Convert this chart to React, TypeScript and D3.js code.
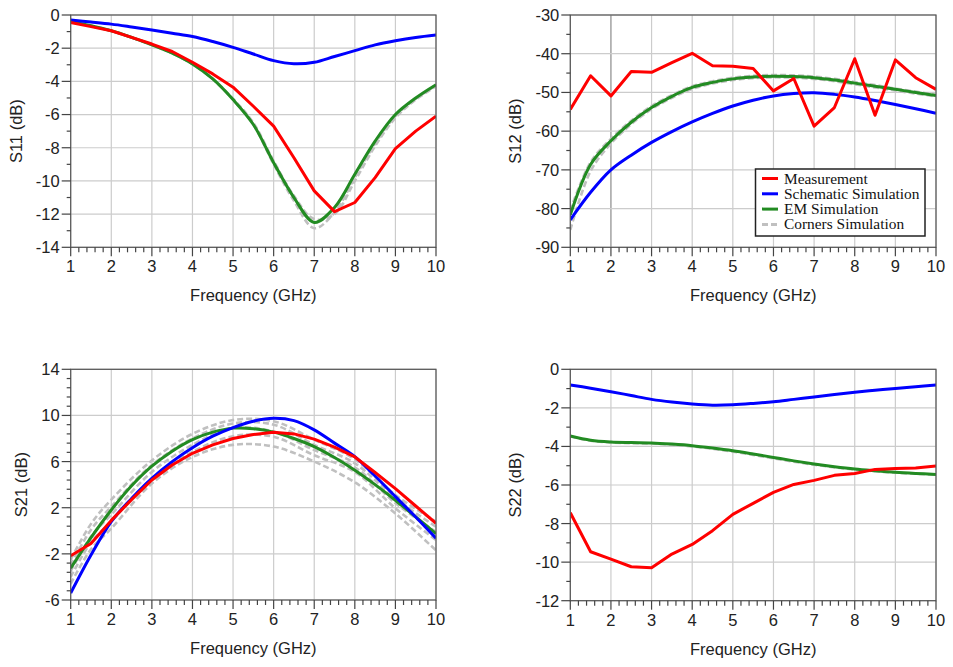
import React from 'react';
import * as d3 from 'd3';

// ---------- data ----------
const freq = [1, 1.5, 2, 2.5, 3, 3.5, 4, 4.5, 5, 5.5, 6, 6.5, 7, 7.5, 8, 8.5, 9, 9.5, 10];
const freqCorner21 = [1, 1.5, 2, 3, 4, 5, 6, 7, 8, 9, 10];

const s11Meas = [-0.45, -0.7, -0.95, -1.35, -1.75, -2.2, -2.85, -3.55, -4.35, -5.5, -6.7, -8.6, -10.6, -11.85, -11.3, -9.8, -8.05, -7.0, -6.1];
const s11Sch = [-0.3, -0.42, -0.55, -0.72, -0.9, -1.1, -1.3, -1.6, -1.95, -2.35, -2.75, -2.94, -2.85, -2.5, -2.15, -1.8, -1.55, -1.35, -1.2];
const s11EM = [-0.4, -0.65, -0.95, -1.35, -1.8, -2.3, -2.95, -3.85, -5.1, -6.6, -8.9, -11.0, -12.5, -11.6, -9.6, -7.6, -6.0, -5.0, -4.2];
const s11CornerA = [-0.4, -0.65, -0.95, -1.35, -1.8, -2.3, -2.95, -3.85, -5.1, -6.6, -9.0, -11.2, -12.85, -11.9, -9.8, -7.75, -6.1, -5.05, -4.25];
const s11CornerB = [-0.4, -0.65, -0.95, -1.35, -1.8, -2.3, -2.95, -3.85, -5.05, -6.5, -8.8, -10.9, -12.3, -12.0, -10.0, -7.9, -6.2, -5.1, -4.3];

const s12Meas = [-54.4, -45.7, -50.9, -44.6, -44.8, -42.3, -39.9, -43.1, -43.25, -43.8, -49.6, -46.4, -58.7, -53.9, -41.3, -55.9, -41.6, -46.2, -49.2];
const s12Sch = [-82.9, -75.8, -70.0, -66.2, -62.9, -60.1, -57.6, -55.4, -53.5, -52.0, -50.9, -50.3, -50.1, -50.5, -51.2, -52.1, -53.1, -54.2, -55.4];
const s12EM = [-81.6, -68.6, -62.5, -57.7, -53.9, -51.0, -48.7, -47.4, -46.5, -46.0, -45.8, -45.9, -46.2, -46.8, -47.6, -48.4, -49.2, -50.0, -50.8];
const s12CornerA = [-80.5, -68.0, -62.0, -57.3, -53.5, -50.7, -48.4, -47.1, -46.2, -45.7, -45.5, -45.6, -45.9, -46.5, -47.3, -48.1, -49.0, -49.8, -50.6];
const s12CornerB = [-85.5, -70.3, -63.2, -58.2, -54.3, -51.4, -49.1, -47.7, -46.8, -46.3, -46.1, -46.2, -46.5, -47.1, -47.9, -48.7, -49.5, -50.3, -51.0];

const s21Meas = [-2.16, -1.1, 0.9, 2.7, 4.4, 5.7, 6.72, 7.45, 8.0, 8.35, 8.55, 8.4, 7.95, 7.25, 6.4, 5.05, 3.65, 2.15, 0.65];
const s21Sch = [-5.4, -2.1, 0.8, 2.8, 4.55, 6.0, 7.2, 8.2, 8.95, 9.5, 9.75, 9.55, 8.75, 7.6, 6.43, 4.75, 2.96, 1.2, -0.65];
const s21EM = [-3.25, -0.6, 1.8, 3.9, 5.6, 6.9, 7.9, 8.55, 8.9, 8.85, 8.55, 8.0, 7.3, 6.35, 5.25, 4.0, 2.65, 1.2, -0.25];
const s21CornerA = [-2.5, 0.6, 2.7, 6.1, 8.4, 9.6, 9.5, 7.9, 6.2, 3.1, 0.8];
const s21CornerB = [-3.0, 0.1, 2.1, 5.7, 8.0, 9.3, 9.2, 7.45, 5.85, 2.8, 0.35];
const s21CornerC = [-3.5, -0.5, 1.4, 5.1, 7.45, 8.9, 8.6, 7.0, 5.5, 2.4, -0.1];
const s21CornerD = [-4.0, -1.0, 0.8, 4.55, 6.85, 8.2, 8.15, 6.55, 5.1, 1.95, -0.8];
const s21CornerE = [-4.6, -1.6, 0.2, 4.1, 6.4, 7.45, 7.3, 6.0, 4.2, 1.5, -1.7];

const s22Meas = [-7.44, -9.46, -9.84, -10.24, -10.29, -9.58, -9.08, -8.37, -7.52, -6.95, -6.38, -5.97, -5.76, -5.5, -5.4, -5.19, -5.15, -5.12, -5.01];
const s22Sch = [-0.81, -0.98, -1.16, -1.36, -1.56, -1.7, -1.8, -1.86, -1.84, -1.77, -1.68, -1.56, -1.44, -1.31, -1.19, -1.09, -0.99, -0.9, -0.81];
const s22EM = [-3.46, -3.68, -3.77, -3.8, -3.82, -3.88, -3.96, -4.08, -4.22, -4.39, -4.57, -4.75, -4.91, -5.05, -5.17, -5.26, -5.34, -5.4, -5.45];
const s22CornerA = [-3.48, -3.7, -3.79, -3.83, -3.85, -3.91, -4.0, -4.12, -4.27, -4.44, -4.62, -4.79, -4.95, -5.08, -5.2, -5.29, -5.36, -5.42, -5.47];

const xTicks = [1, 2, 3, 4, 5, 6, 7, 8, 9, 10];
const legendLabels = ['Measurement', 'Schematic Simulation', 'EM Simulation', 'Corners Simulation'];

// ---------- styling ----------
const RED = '#ff0000';
const BLUE = '#0000ff';
const GREEN = '#228b22';
const GRAY = '#c0c0c0';
const SANS = 'Arial, "Liberation Sans", sans-serif';
const SERIF = '"Times New Roman", "Liberation Serif", serif';
const FS = 16.5;

type Series = { x: number[]; y: number[]; kind: 'meas' | 'sch' | 'em' | 'corner' };

type PanelProps = {
  left: number; right: number; top: number; bottom: number;
  yMin: number; yMax: number; yStep: number; yMinor: number;
  yLabel: string; yLabelX: number;
  series: Series[];
  darkGrid?: number[];
  legend?: boolean;
};

function Panel(p: PanelProps) {
  const x = d3.scaleLinear().domain([1, 10]).range([p.left, p.right]);
  const y = d3.scaleLinear().domain([p.yMin, p.yMax]).range([p.bottom, p.top]);
  const majors = d3.range(p.yMin, p.yMax + 1e-6, p.yStep);
  const minors = d3.range(p.yMin, p.yMax + 1e-6, p.yMinor).filter(v => majors.every(m => Math.abs(m - v) > 1e-6));
  const xMinor = d3.range(1, 10.0001, 0.2).filter(v => Math.abs(v - Math.round(v)) > 1e-6);

  const smooth = d3.line<[number, number]>().x(d => x(d[0])).y(d => y(d[1])).curve(d3.curveCatmullRom.alpha(0.5));
  const straight = d3.line<[number, number]>().x(d => x(d[0])).y(d => y(d[1]));

  const order = ['corner', 'em', 'sch', 'meas'];
  const sorted = [...p.series].sort((a, b) => order.indexOf(a.kind) - order.indexOf(b.kind));
  const midX = (p.left + p.right) / 2;
  const midY = (p.top + p.bottom) / 2;
  const clipId = `clip-${Math.round(p.left)}-${Math.round(p.top)}`;

  return (
    <g>
      <defs>
        <clipPath id={clipId}>
          <rect x={p.left} y={p.top - 2} width={p.right - p.left} height={p.bottom - p.top + 4} />
        </clipPath>
      </defs>
      {/* grid */}
      {xTicks.map(t => (
        <line key={'gx' + t} x1={x(t)} x2={x(t)} y1={p.top} y2={p.bottom}
          stroke={p.darkGrid && p.darkGrid.includes(t) ? '#8a8a8a' : '#cccccc'} strokeWidth={1.2} />
      ))}
      {majors.map(t => (
        <line key={'gy' + t} x1={p.left} x2={p.right} y1={y(t)} y2={y(t)} stroke="#cccccc" strokeWidth={1.2} />
      ))}
      {/* series */}
      <g clipPath={`url(#${clipId})`}>
        {sorted.map((s, i) => {
          const pts = s.x.map((v, j) => [v, s.y[j]] as [number, number]);
          const d = s.kind === 'meas' ? straight(pts) : smooth(pts);
          const color = s.kind === 'meas' ? RED : s.kind === 'sch' ? BLUE : s.kind === 'em' ? GREEN : GRAY;
          return (
            <path key={i} d={d || ''} fill="none" stroke={color}
              strokeWidth={s.kind === 'corner' ? 2.6 : 3}
              strokeDasharray={s.kind === 'corner' ? '6 3' : undefined}
              strokeLinejoin="round" />
          );
        })}
      </g>
      {/* frame */}
      <rect x={p.left} y={p.top} width={p.right - p.left} height={p.bottom - p.top} fill="none" stroke="#555" strokeWidth={1.2} />
      {/* y ticks */}
      {majors.map(t => (
        <g key={'yt' + t}>
          <line x1={p.left - 9} x2={p.left} y1={y(t)} y2={y(t)} stroke="#444" strokeWidth={1.2} />
          <text x={p.left - 11} y={y(t)} dy="0.36em" textAnchor="end" fontFamily={SANS} fontSize={FS} fill="#222">
            {t < 0 ? '-' + Math.abs(t) : String(t)}
          </text>
        </g>
      ))}
      {minors.map(t => (
        <line key={'ym' + t} x1={p.left - 4} x2={p.left} y1={y(t)} y2={y(t)} stroke="#444" strokeWidth={1.2} />
      ))}
      {/* x ticks */}
      {xTicks.map(t => (
        <g key={'xt' + t}>
          <line x1={x(t)} x2={x(t)} y1={p.bottom} y2={p.bottom + 9} stroke="#444" strokeWidth={1.2} />
          <text x={x(t)} y={p.bottom + 25} textAnchor="middle" fontFamily={SANS} fontSize={FS} fill="#222">{t}</text>
        </g>
      ))}
      {xMinor.map(t => (
        <line key={'xm' + t.toFixed(1)} x1={x(t)} x2={x(t)} y1={p.bottom} y2={p.bottom + 5} stroke="#444" strokeWidth={1.2} />
      ))}
      {/* axis labels */}
      <text x={midX} y={p.bottom + 54} textAnchor="middle" fontFamily={SANS} fontSize={FS} fill="#222">Frequency (GHz)</text>
      <text transform={`translate(${p.yLabelX},${midY}) rotate(-90)`} dy="0.36em" textAnchor="middle" fontFamily={SANS} fontSize={FS} fill="#222">{p.yLabel}</text>
      {p.legend && (
        <g>
          <rect x={755.5} y={169} width={169.5} height={67} fill="#fff" stroke="#222" strokeWidth={1.5} />
          {legendLabels.map((lab, i) => {
            const ly = 178.5 + i * 15.3;
            const color = [RED, BLUE, GREEN, GRAY][i];
            return (
              <g key={lab}>
                <line x1={762} x2={778} y1={ly} y2={ly} stroke={color} strokeWidth={3} strokeDasharray={i === 3 ? '6 3' : undefined} />
                <text x={784} y={ly} dy="0.33em" fontFamily={SERIF} fontSize={15.4} fill="#111">{lab}</text>
              </g>
            );
          })}
        </g>
      )}
    </g>
  );
}

export default function App() {
  const L1 = 70.7, R1 = 436, L2 = 570.3, R2 = 936;
  return (
    <svg width={953} height={667} style={{ position: 'absolute', left: 0, top: 0, background: '#fff' }}>
      <rect width={953} height={667} fill="#fff" />
      <Panel left={L1} right={R1} top={15} bottom={247.3} yMin={-14} yMax={0} yStep={2} yMinor={1}
        yLabel="S11 (dB)" yLabelX={16}
        series={[
          { x: freq, y: s11CornerA, kind: 'corner' },
          { x: freq, y: s11CornerB, kind: 'corner' },
          { x: freq, y: s11EM, kind: 'em' },
          { x: freq, y: s11Sch, kind: 'sch' },
          { x: freq, y: s11Meas, kind: 'meas' },
        ]} />
      <Panel left={L2} right={R2} top={15} bottom={247.3} yMin={-90} yMax={-30} yStep={10} yMinor={5}
        yLabel="S12 (dB)" yLabelX={515} darkGrid={[2]} legend
        series={[
          { x: freq, y: s12CornerA, kind: 'corner' },
          { x: freq, y: s12CornerB, kind: 'corner' },
          { x: freq, y: s12EM, kind: 'em' },
          { x: freq, y: s12Sch, kind: 'sch' },
          { x: freq, y: s12Meas, kind: 'meas' },
        ]} />
      <Panel left={L1} right={R1} top={369.3} bottom={600} yMin={-6} yMax={14} yStep={4} yMinor={0.8}
        yLabel="S21 (dB)" yLabelX={21.5}
        series={[
          { x: freqCorner21, y: s21CornerA, kind: 'corner' },
          { x: freqCorner21, y: s21CornerB, kind: 'corner' },
          { x: freqCorner21, y: s21CornerC, kind: 'corner' },
          { x: freqCorner21, y: s21CornerD, kind: 'corner' },
          { x: freqCorner21, y: s21CornerE, kind: 'corner' },
          { x: freq, y: s21EM, kind: 'em' },
          { x: freq, y: s21Sch, kind: 'sch' },
          { x: freq, y: s21Meas, kind: 'meas' },
        ]} />
      <Panel left={L2} right={R2} top={369.3} bottom={600.7} yMin={-12} yMax={0} yStep={2} yMinor={1}
        yLabel="S22 (dB)" yLabelX={515}
        series={[
          { x: freq, y: s22CornerA, kind: 'corner' },
          { x: freq, y: s22EM, kind: 'em' },
          { x: freq, y: s22Sch, kind: 'sch' },
          { x: freq, y: s22Meas, kind: 'meas' },
        ]} />
    </svg>
  );
}
